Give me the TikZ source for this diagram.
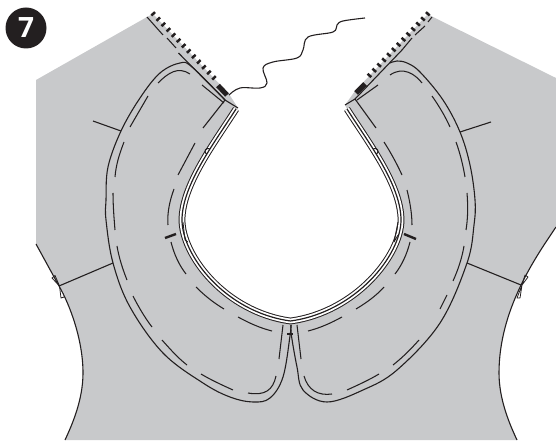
\documentclass[tikz,border=0pt]{standalone}
\usepackage{fontspec}
\setmainfont{Open Sans}
\definecolor{garment}{HTML}{C8C9CB}
\definecolor{ink}{HTML}{231F20}
\tikzset{
  outline/.style={draw=ink,line width=1.1pt,line join=round},
  thin stitch/.style={draw=ink,line width=1.05pt},
  marker/.style={draw=ink,line width=2.4pt},
  tooth/.style={draw=ink,line width=2.5pt},
}
\newcommand{\neckline}{(236,109) .. controls (215,142) and (182,185) .. (182,220) .. controls (182,255) and (225,312) .. (290.5,321) .. controls (356,312) and (401,255) .. (401,220) .. controls (401,185) and (368,142) .. (347,109)}
\begin{document}
\begin{tikzpicture}[x=1pt,y=-1pt]
\useasboundingbox (0,0) rectangle (556,443);
% garment
\fill[garment] (36,80) -- (147,17) -- (153,14) -- (229,94) -- (238,108) -- (236,109)
  .. controls (215,142) and (182,185) .. (182,220) .. controls (182,255) and (225,312) .. (290.5,321) .. controls (356,312) and (401,255) .. (401,220) .. controls (401,185) and (368,142) .. (347,109)
  -- (345,105) -- (355,91) -- (428,14) -- (433,17) -- (556,78) -- (556,227)
  .. controls (535,258) and (499,310) .. (499,373)
  .. controls (499,400) and (510,425) .. (517,440)
  -- (65,440)
  .. controls (72,425) and (83,400) .. (83,373)
  .. controls (83,340) and (70,305) .. (59,286)
  -- (36,244) -- cycle;
% armhole edges
\draw[outline] (36,244) -- (59,286) .. controls (70,305) and (83,340) .. (83,373) .. controls (83,400) and (72,425) .. (65,440);
\draw[outline] (556,227) .. controls (535,258) and (499,310) .. (499,373) .. controls (499,400) and (510,425) .. (517,440);
% notches
\draw[outline,line width=0.8pt] (52,278) -- (55,275.5) -- (59.5,286) -- cycle (59.5,286) -- (61,298) -- (64,297);
\draw[outline,line width=0.8pt] (528,277) -- (525,275) -- (522,285) -- cycle (522,285) -- (517,298) -- (520,298) -- (522,285);
% fold lines
\draw[outline] (93,121) -- (121,131);
\draw[outline] (491,122) -- (460,132);
\draw[outline] (59,286) -- (113,263);
\draw[outline] (521,285) -- (467,263);
% collar left
\draw[outline] plot[smooth,tension=0.6] coordinates {(291,325)(290,336)(283,377)(270,398)(253,402)(230,397)(203,383)(163,353)(130,307)(113,263)(106,220)(106,200)(108,167)(121,131)(140,98)(160,73)(180,63)(192,67)(225,100)};
\draw[outline] (178.5,53) -- (225,100) -- (238,108);
\draw[outline] (225,100) -- (203,128);
% collar right
\draw[outline] plot[smooth,tension=0.6] coordinates {(291,325)(291.5,336)(297,367)(303,390)(327,402)(363,390)(397,370)(440,323)(467,263)(474,225)(475,200)(470,165)(460,132)(443,100)(420,72)(407,63)(397,61)(390,63)};
\draw[outline] (402,50) -- (355,99) -- (345,105);
\draw[outline] (355,99) -- (376,128);
% stitches left
\draw[thin stitch]
  (147,17) -- (163,35) (167,38) -- (176,48) (202,85) -- (224,103)
  (148,96) -- (130,127) (124,142) .. controls (119,155) and (116,165) .. (115,177)
  (113,193) .. controls (113,205) and (114,218) .. (115,230)
  (117,246) .. controls (119,258) and (123,270) .. (127,280)
  (133,296) .. controls (138,306) and (145,318) .. (152,327)
  (162,340) .. controls (170,349) and (178,358) .. (187,365)
  (201,374) .. controls (211,380) and (222,385) .. (233,390)
  (248,393) .. controls (265,396) and (273,390) .. (276,376)
  (283,325) -- (279,359)
  (158,83) .. controls (168,73) and (178,66) .. (190,74)
  (195,143) -- (178,175) (174,189) .. controls (170,200) and (167,212) .. (168,225)
  (171,242) .. controls (174,254) and (179,265) .. (186,274)
  (196,287) .. controls (205,296) and (214,303) .. (224,309)
  (238,317) .. controls (249,323) and (260,328) .. (272,331);
% stitches right
\draw[thin stitch]
  (432,17) -- (428,22) (425,26) -- (415,35) (412,38) -- (402,50) (357,100) -- (378,85)
  (297,325) -- (301,359)
  (304,376) .. controls (308,390) and (318,396) .. (332,394)
  (347,390) .. controls (358,385) and (369,380) .. (379,374)
  (393,365) .. controls (402,358) and (411,349) .. (419,340)
  (440,309) -- (447,295)
  (453,281) .. controls (458,270) and (462,258) .. (464,246)
  (466,230) .. controls (468,218) and (468,205) .. (467,193)
  (465,177) .. controls (463,165) and (460,153) .. (456,142)
  (450,127) .. controls (445,116) and (439,106) .. (432,96)
  (422,83) .. controls (415,74) and (403,66) .. (390,75)
  (384,142) .. controls (391,153) and (397,164) .. (402,175)
  (407,190) .. controls (410,202) and (412,214) .. (412,225)
  (410,242) .. controls (407,254) and (402,265) .. (395,274)
  (384,287) .. controls (376,296) and (366,303) .. (356,309)
  (342,317) .. controls (331,323) and (320,328) .. (308,331);
% centre tick and seam markers
\draw[outline] (287,334) -- (293,334);
\draw[marker] (165,238) -- (176,234);
\draw[marker] (404,234) -- (416,239);
% neck band (three lines)
\draw[ink,line width=6.8pt] \neckline;
\draw[white,line width=4.8pt] \neckline;
\draw[ink,line width=1.2pt] \neckline;
% little details on the band
\draw[outline] (206.5,154) arc[start angle=120,end angle=300,radius=3];
\draw[outline] (376.5,154) arc[start angle=60,end angle=-120,radius=3];
\draw[outline,line width=0.8pt] (183,222) -- (185,240) -- (188,242) (398,222) -- (394,242) -- (398,235);
% zipper teeth
\foreach \t in {0,0.0667,...,0.84}{
  \path (153,14) -- coordinate[pos=\t] (tA) (229,94);
  \draw[tooth] (tA) ++(-1.6,1.5) -- ++(3.6,-3.4);
}
\draw[ink,line width=5pt] (218,85.5) -- (227,95);
\foreach \t in {0,0.0667,...,0.84}{
  \path (428,14) -- coordinate[pos=\t] (tB) (355,91);
  \draw[tooth] (tB) ++(1.6,1.5) -- ++(-3.6,-3.4);
}
\draw[ink,line width=5pt] (356,93) -- (365,84);
% thread
\draw[outline] plot[smooth,tension=0.6] coordinates {(229,95)(240,88)(260,88)(267,83)(263,68)(273,62)(297,58)(303,50)(308,37)(333,32)(337,25)(343,21)(365,18)};
% badge
\node[circle,fill=ink,minimum size=41pt,inner sep=0pt,text=white,font=\fontsize{28}{28}\selectfont\bfseries] (badge) at (26,28) {7};
\end{tikzpicture}
\end{document}
